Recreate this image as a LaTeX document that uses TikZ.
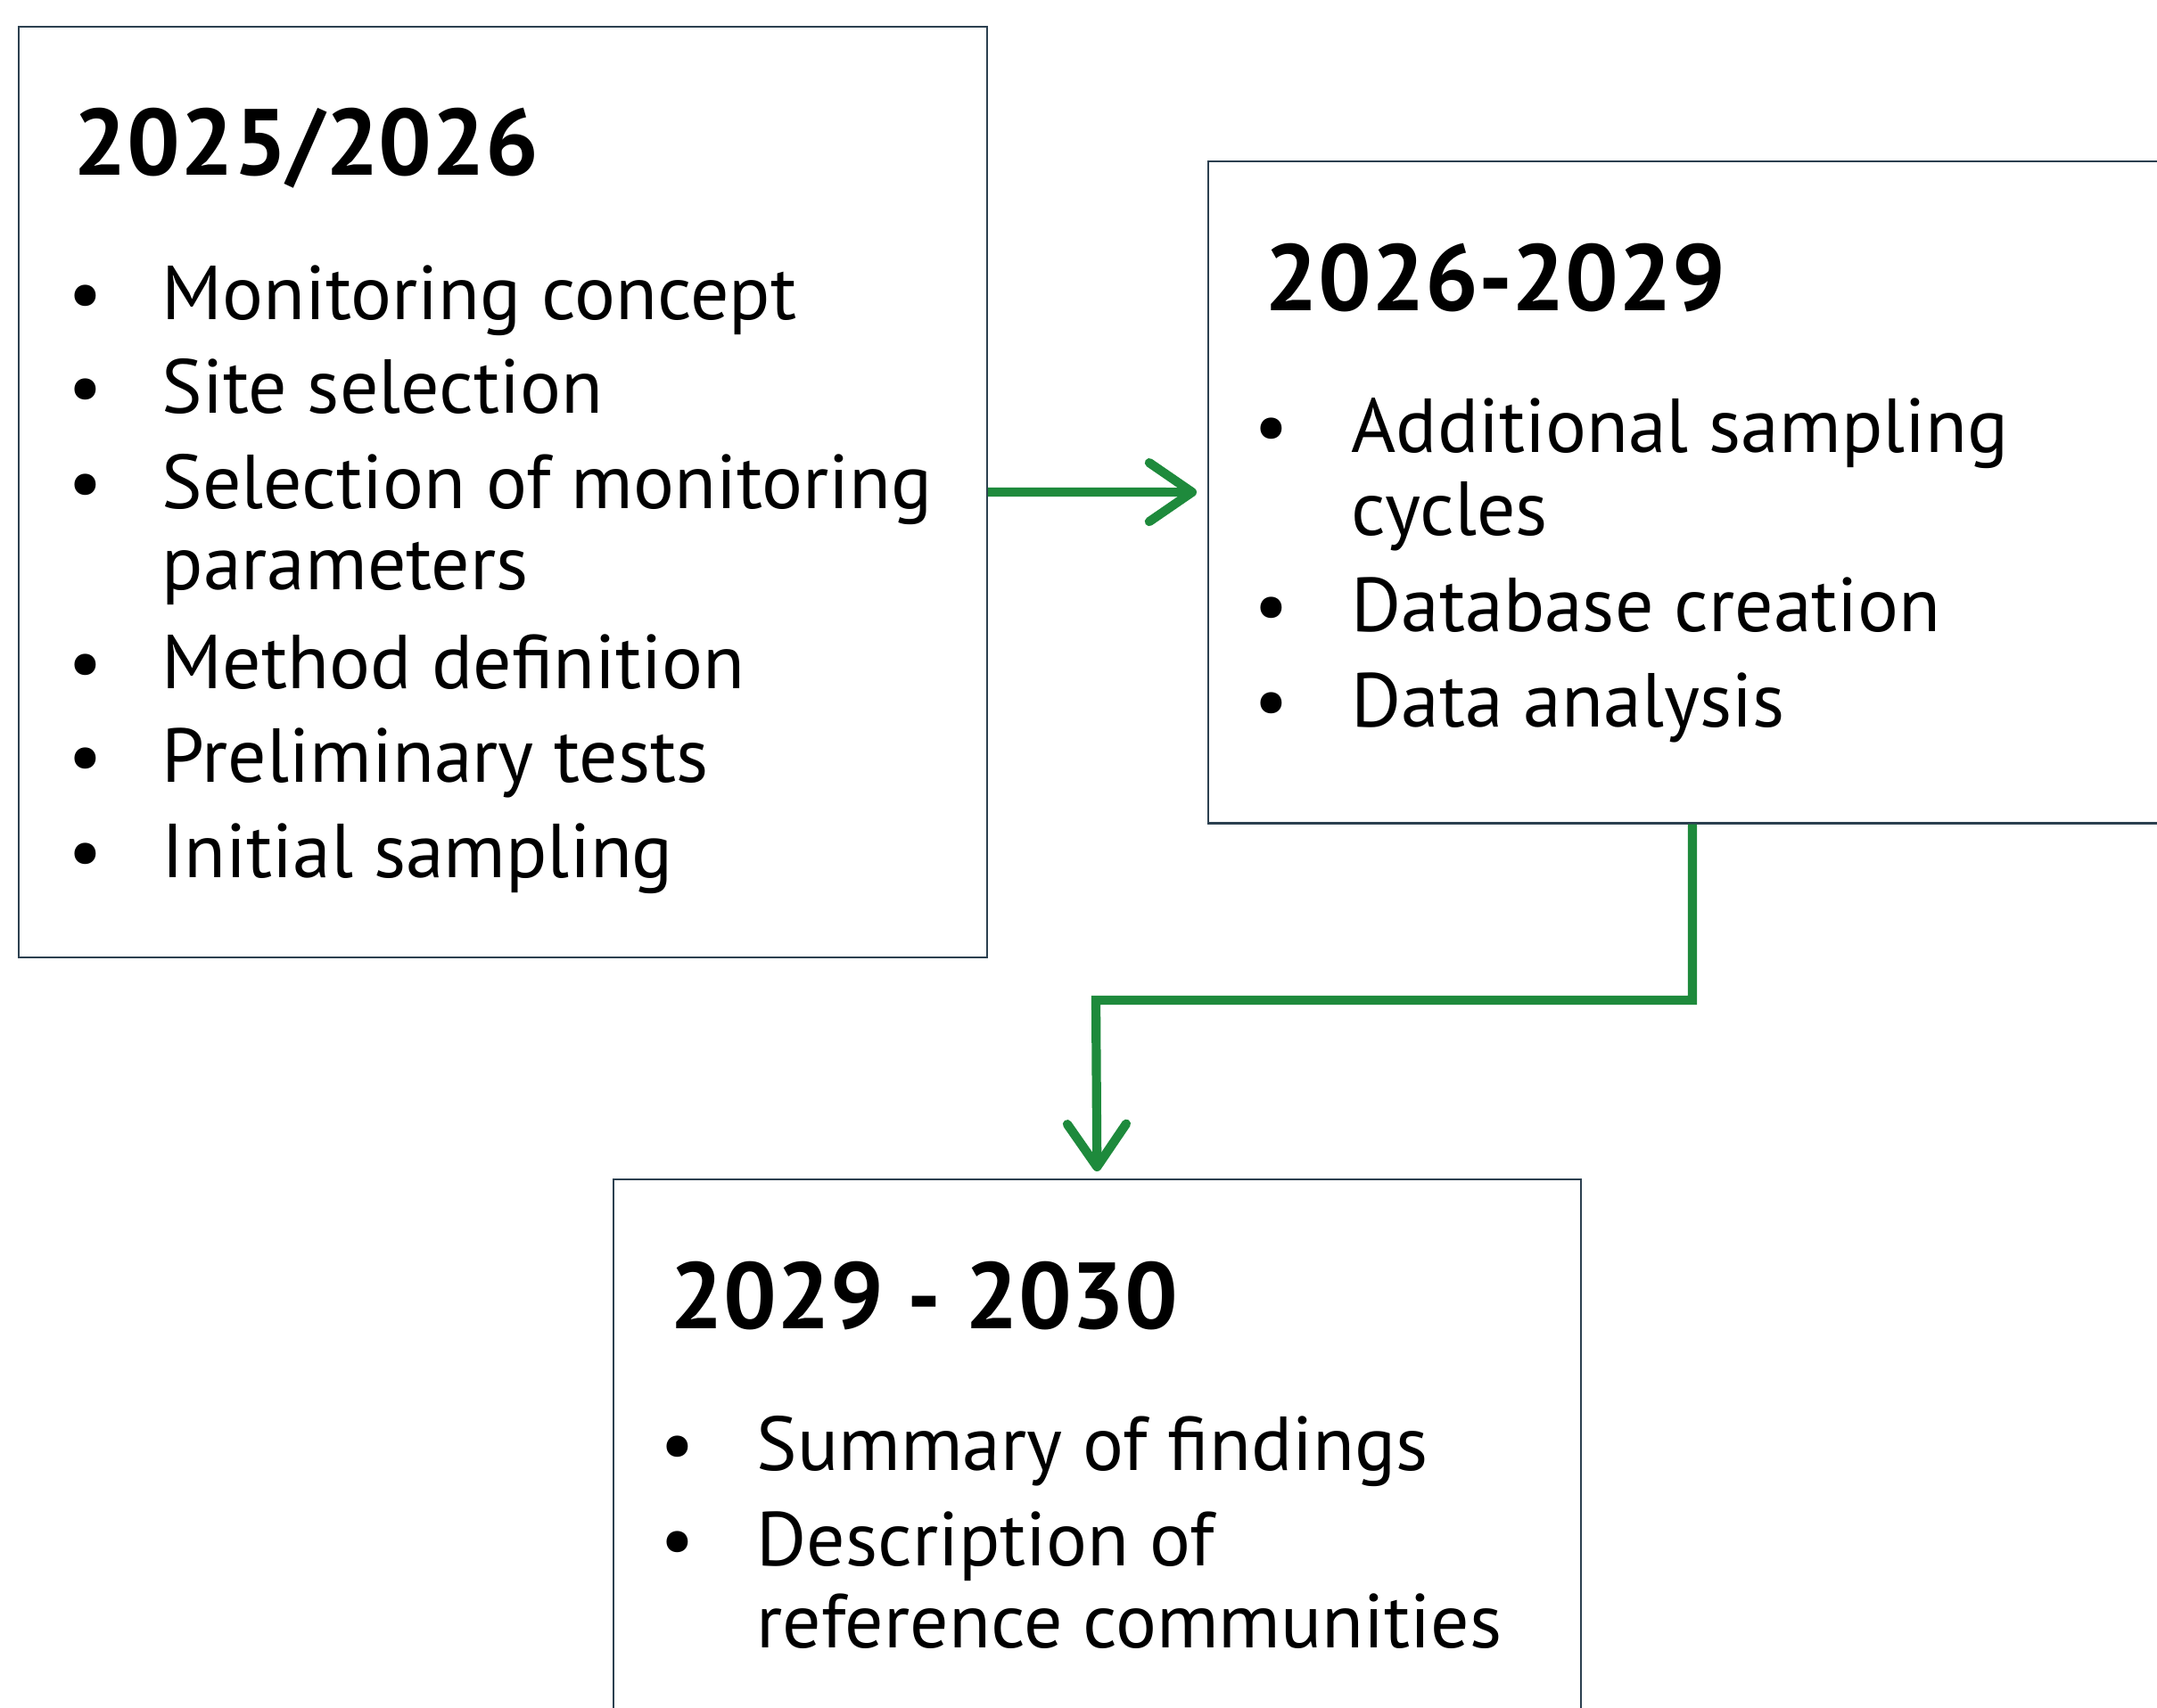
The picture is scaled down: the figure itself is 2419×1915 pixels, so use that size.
\documentclass[tikz,border=0pt]{standalone}
\usepackage{fontspec}
\setmainfont{PT Sans}
\usetikzlibrary{arrows.meta}

\definecolor{boxline}{HTML}{2C4050}
\definecolor{flowgreen}{HTML}{1E8A3C}

\tikzset{
    phase/.style={draw=boxline, line width=0.6pt, anchor=north west, inner sep=0pt},
    head/.style={anchor=base west, inner sep=0pt, font=\fontsize{30}{36}\selectfont\bfseries},
    entry/.style={anchor=base west, inner sep=0pt, font=\fontsize{24.4}{29}\selectfont},
    dot/.style={anchor=base, inner sep=0pt, font=\fontsize{24.4}{29}\selectfont},
    flow/.style={draw=flowgreen, line width=2.9pt, -{Straight Barb[length=0.48cm,width=0.66cm,round]}}
}

\begin{document}
\begin{tikzpicture}[x=0.01cm, y=-0.01cm]
    \useasboundingbox (0,0) rectangle (2419,1915);

    % phase boxes
    \node[phase, minimum width=10.85cm, minimum height=10.43cm] (early) at (20,29) {};
    \node[phase, minimum width=10.85cm, minimum height=7.42cm] (mid) at (1354,180) {};
    \node[phase, minimum width=10.84cm, minimum height=7cm] (late) at (687,1322) {};

    % 2025/2026
    \node[head] (earlyhead) at (82,196) {2025/2026};
    \node[dot] (e1) at (96,358) {\textbullet};
    \node[entry] at (181,358) {Monitoring concept};
    \node[dot] (e2) at (96,463) {\textbullet};
    \node[entry] at (181,463) {Site selection};
    \node[dot] (e3) at (96,570) {\textbullet};
    \node[entry] at (181,570) {Selection of monitoring};
    \node[entry] at (181,661) {parameters};
    \node[dot] (e4) at (96,772) {\textbullet};
    \node[entry] at (181,772) {Method definition};
    \node[dot] (e5) at (96,877) {\textbullet};
    \node[entry] at (181,877) {Preliminary tests};
    \node[dot] (e6) at (96,984) {\textbullet};
    \node[entry] at (181,984) {Initial sampling};

    % 2026-2029
    \node[head] (midhead) at (1418,348) {2026-2029};
    \node[dot] (m1) at (1426,507) {\textbullet};
    \node[entry] at (1515,507) {Additional sampling};
    \node[entry] at (1515,600) {cycles};
    \node[dot] (m2) at (1426,708) {\textbullet};
    \node[entry] at (1515,708) {Database creation};
    \node[dot] (m3) at (1426,815) {\textbullet};
    \node[entry] at (1515,815) {Data analysis};

    % 2029 - 2030
    \node[head] (latehead) at (751,1490) {2029 - 2030};
    \node[dot] (l1) at (760,1649) {\textbullet};
    \node[entry] at (848,1649) {Summary of findings};
    \node[dot] (l2) at (760,1756) {\textbullet};
    \node[entry] at (848,1756) {Description of};
    \node[entry] at (848,1848) {reference communities};

    % arrows
    \coordinate (bend) at (1229,1122);
    \draw[flow, shorten >=0.12cm] (early) -- (mid);
    \draw[flow, shorten >=0.08cm] (mid.south) |- (bend) -- (late.north);
\end{tikzpicture}
\end{document}
